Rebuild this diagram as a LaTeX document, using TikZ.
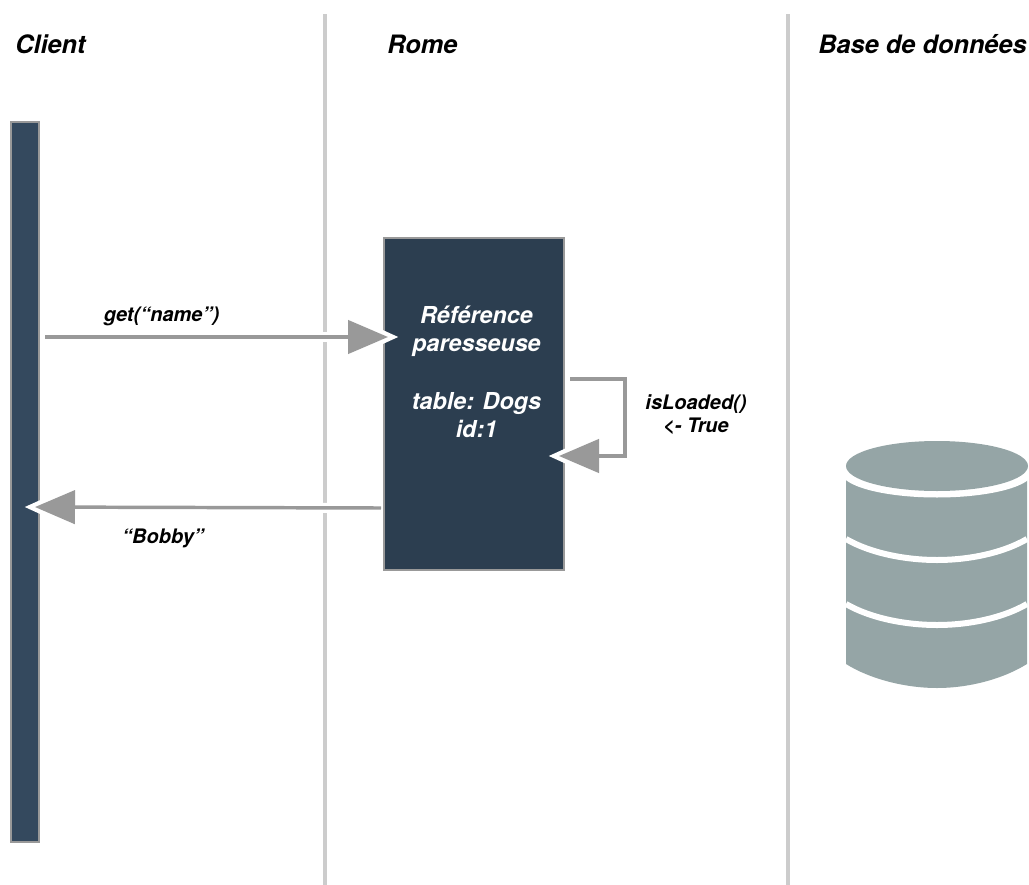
\documentclass[tikz,border=0pt]{standalone}
\usepackage{fontspec}
\setmainfont{TeX Gyre Heros}
\usetikzlibrary{arrows.meta}
\definecolor{barfill}{HTML}{34495E}
\definecolor{boxfill}{HTML}{2C3E50}
\definecolor{edgegray}{HTML}{999999}
\definecolor{lanegray}{HTML}{CCCCCC}
\definecolor{dbfill}{HTML}{95A5A6}
\tikzset{
  lane/.style={draw=lanegray,line width=3pt},
  lifebar/.style={draw=edgegray,line width=1.5pt,fill=#1,inner sep=0pt,outer sep=0pt},
  head/.style={font=\bfseries\itshape\fontsize{19}{22}\selectfont,text=black,inner sep=0pt,anchor=base west},
  lab/.style={font=\bfseries\itshape\fontsize{15}{17.3}\selectfont,text=black,inner sep=0pt,align=center},
  boxtext/.style={font=\bfseries\itshape\fontsize{17.5}{21}\selectfont,text=white,inner sep=0pt,align=center},
  halo/.style={draw=white,line width=7.5pt,-{Triangle[length=40.5pt,width=34pt]}},
  conn/.style={draw=edgegray,line width=2.6pt,shorten >=8.25pt,-{Triangle[length=30pt,width=25pt]}},
}
\begin{document}
\begin{tikzpicture}[x=.75pt,y=-.75pt]
\useasboundingbox (0,0) rectangle (1029,885);
\coordinate (l1t) at (325,14); \coordinate (l1b) at (325,885);
\coordinate (l2t) at (788,14); \coordinate (l2b) at (788,885);
\draw[lane] (l1t) -- (l1b);
\draw[lane] (l2t) -- (l2b);
\node[head] (hclient) at (15,53) {Client};
\node[head] (hrome) at (387,53) {Rome};
\node[head,anchor=base east] (hbase) at (1027,53) {Base de données};
\node[lifebar=barfill,minimum width=21pt,minimum height=540pt] (client) at (25,482) {};
\node[lifebar=boxfill,minimum width=135pt,minimum height=249pt] (rome) at (474,404) {};
\node[boxtext] (reftext) at (476.5,371.5) {Référence\\paresseuse\\[22.5pt]table: Dogs\\id:1};
\draw[halo] ([shift={(6,-145)}]client.east) -- ([shift={(15,-67)}]rome.west);
\draw[conn] ([shift={(6,-145)}]client.east) -- ([shift={(15,-67)}]rome.west);
\draw[halo] ([shift={(-3,104)}]rome.west) -- ([shift={(-15,25)}]client.east);
\draw[conn] ([shift={(-3,104)}]rome.west) -- ([shift={(-15,25)}]client.east);
\draw[halo] ([shift={(6,-25)}]rome.east) -- ++(55,0) |- ([shift={(-16,52)}]rome.east);
\draw[conn] ([shift={(6,-25)}]rome.east) -- ++(55,0) |- ([shift={(-16,52)}]rome.east);
\node[lab,anchor=base] (lget) at (161.5,321) {get(“name”)};
\node[lab,anchor=base] (lbobby) at (163,543) {“Bobby”};
\node[lab] (lload) at (696,415) {isLoaded()\\<- True};
% database cylinder
\fill[dbfill] (846,477) -- (846,664) .. controls (870,679) and (905,688) .. (937,688)
  .. controls (969,688) and (1003,679) .. (1027,664) -- (1027,477) -- cycle;
\fill[white] (937,472) ellipse [x radius=96,y radius=25.5];
\fill[dbfill] (937,466) ellipse [x radius=91,y radius=25];
\draw[white,line width=4.5pt] (846,539) .. controls (870,553) and (905,560) .. (937,560)
  .. controls (969,560) and (1003,553) .. (1027,539);
\draw[white,line width=4.5pt] (846,604) .. controls (870,618) and (905,625) .. (937,625)
  .. controls (969,625) and (1003,618) .. (1027,604);
\end{tikzpicture}
\end{document}
